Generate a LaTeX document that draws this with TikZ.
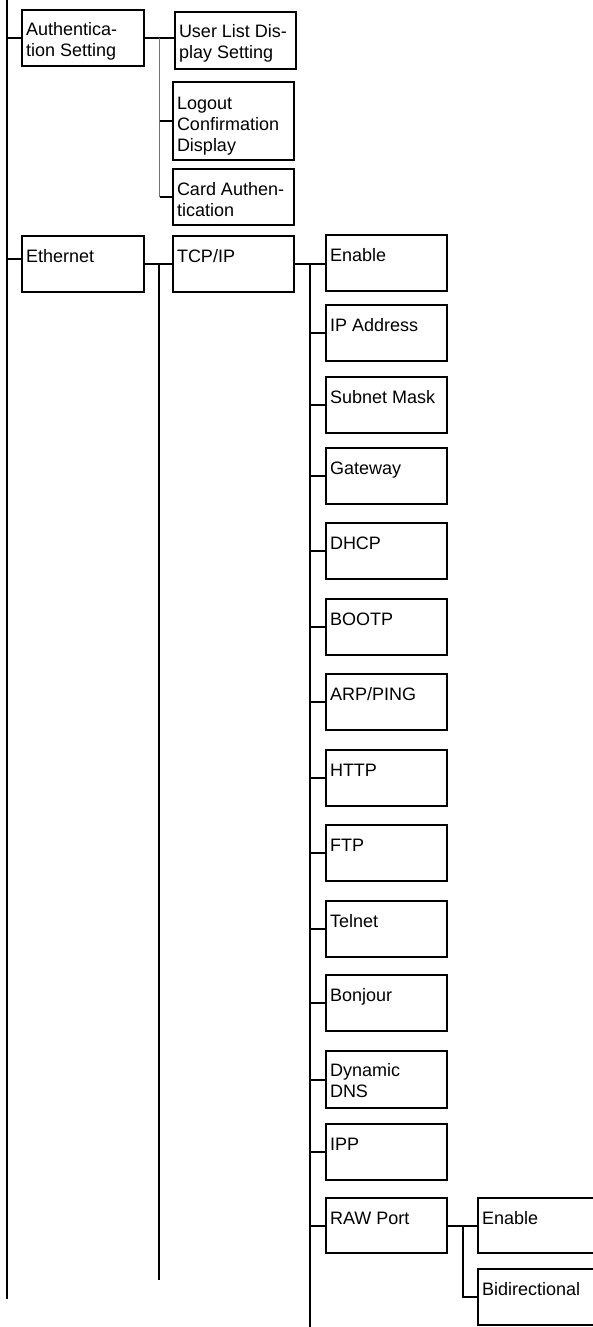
\documentclass[tikz,border=0pt]{standalone}
\usepackage{fontspec}
\setmainfont{Liberation Sans}
\usetikzlibrary{calc}
\tikzset{
  menubox/.style={draw, line width=2pt, rectangle, anchor=north west, outer sep=0pt,
    inner xsep=4pt, inner ysep=0pt, text width=113pt, align=flush left,
    text height=26pt, text depth=30pt, font=\fontsize{18}{21}\selectfont},
  conn/.style={line width=2pt},
  thinconn/.style={line width=1.6pt, draw=black!55},
}
\begin{document}
\begin{tikzpicture}[x=1pt,y=-1pt]
\clip (0,0) rectangle (593,1327);
\fill[white] (0,0) rectangle (593,1327);

% first level
\node[menubox, text width=114pt] (auth) at (22,10) {Authentica-\\tion Setting};
\node[menubox, text width=114pt] (ether) at (22,236) {Ethernet};

% second level
\node[menubox, text depth=31pt] (ul) at (175,12) {User List Dis-\\play Setting};
\node[menubox, text height=28pt, text depth=50pt] (logout) at (173,82) {Logout\\Confirmation\\Display};
\node[menubox] (card) at (173,169) {Card Authen-\\tication};
\node[menubox] (tcp) at (173,236) {TCP/IP};

% third level
\node[menubox] (enable) at (326,235) {Enable};
\node[menubox] (ip) at (326,305) {IP Address};
\node[menubox] (subnet) at (326,377) {Subnet Mask};
\node[menubox] (gw) at (326,448) {Gateway};
\node[menubox] (dhcp) at (326,523) {DHCP};
\node[menubox] (bootp) at (326,599) {BOOTP};
\node[menubox] (arp) at (326,674) {ARP/PING};
\node[menubox] (http) at (326,750) {HTTP};
\node[menubox] (ftp) at (326,825) {FTP};
\node[menubox] (telnet) at (326,901) {Telnet};
\node[menubox] (bonjour) at (326,975) {Bonjour};
\node[menubox, text height=25pt, text depth=32pt] (ddns) at (326,1051) {Dynamic\\DNS};
\node[menubox] (ipp) at (326,1124) {IPP};
\node[menubox, text depth=29pt] (raw) at (326,1198) {RAW Port};

% fourth level
\node[menubox, text depth=29pt] (en2) at (478,1198) {Enable};
\node[menubox] (bidir) at (478,1269) {Bidirectional};

% main trunk
\coordinate (m0) at (7,0);
\coordinate (m1) at (7,1299);
\draw[conn] (m0) -- (m1);
\draw[conn] (auth.west -| m0) -- (auth.west);
\coordinate (ew) at ([yshift=5pt]ether.west);
\draw[conn] (ew -| m0) -- (ew);

% authentication group
\coordinate (aj) at ($(auth.east)!0.5!(auth.east -| ul.west)$);
\draw[conn] (auth.east) -- (auth.east -| ul.west);
\draw[thinconn] (aj) -- (aj |- card.west);
\draw[conn] (aj |- logout.west) -- (logout.west);
\draw[conn] (aj |- card.west) -- (card.west);

% ethernet group
\draw[conn] (ether.east) -- (tcp.west);
\coordinate (ej) at ($(ether.east)!0.5!(tcp.west)$);
\coordinate (ebot) at (159,1280);
\draw[conn] (ej) -- (ej |- ebot);

% tcp/ip group
\draw[conn] (tcp.east) -- (tcp.east -| enable.west);
\coordinate (tj) at ($(tcp.east)!0.5!(tcp.east -| enable.west)$);
\coordinate (tbot) at (310,1330);
\draw[conn] (tj) -- (tj |- tbot);
\foreach \n in {ip,subnet,gw,dhcp,bootp,arp,http,ftp,telnet,bonjour,ddns,ipp,raw}
  \draw[conn] (tj |- \n.west) -- (\n.west);

% raw port group
\draw[conn] (raw.east) -- (en2.west);
\coordinate (rj) at ($(raw.east)!0.5!(en2.west)$);
\draw[conn] (rj) -- (rj |- bidir.west) -- (bidir.west);
\end{tikzpicture}
\end{document}
